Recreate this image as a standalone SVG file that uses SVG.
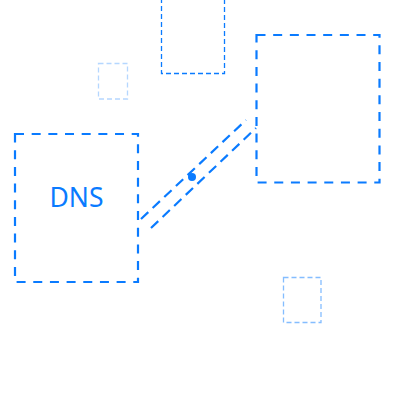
<svg xmlns="http://www.w3.org/2000/svg" width="400" height="400" viewBox="0 0 400 400">
<style>
.box{fill:none;stroke:#0a7bff;stroke-width:2.2;stroke-dasharray:9 7.67}
.thin{fill:none;stroke:#0a7bff;stroke-width:1.3;stroke-dasharray:5 3}
.conn{fill:none;stroke:#0a7bff;stroke-width:2.2;stroke-dasharray:10 6}
.lbl{font-family:"Noto Sans",sans-serif;font-size:26.5px;fill:#0a7bff;text-anchor:middle}
</style>
<rect width="400" height="400" fill="#fff"/>
<g id="top-box"><rect class="thin" x="161.5" y="-10" width="63" height="83.5"/></g>
<g id="small-box-1"><rect class="thin" x="98.5" y="63.5" width="29" height="35.5" opacity="0.3"/></g>
<g id="small-box-2"><rect class="thin" x="283.5" y="277.5" width="37.5" height="45" opacity="0.5"/></g>
<g id="dns"><rect class="box" x="15" y="134" width="123" height="148"/><text class="lbl" x="76.5" y="206.5">DNS</text></g>
<g id="right-box"><rect class="box" x="256.5" y="35" width="123" height="147.5"/></g>
<g id="connectors">
<line class="conn" x1="141" y1="219" x2="246" y2="120"/>
<line class="conn" x1="151" y1="228" x2="256" y2="128"/>
<circle cx="192" cy="177" r="4" fill="#0a7bff"/>
</g>
</svg>
